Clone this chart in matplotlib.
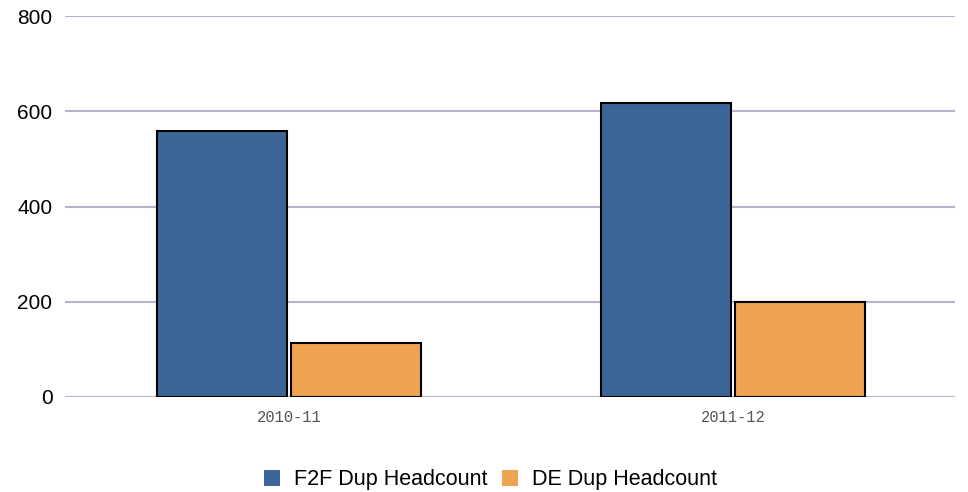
import matplotlib
matplotlib.use("Agg")
import matplotlib.pyplot as plt
import numpy as np

categories = ["2010-11", "2011-12"]
series_names = ["F2F Dup Headcount", "DE Dup Headcount"]
f2f_values = [559, 617]
de_values = [114, 199]
colors = ["#3b6697", "#efa352"]
yticks = [0, 200, 400, 600, 800]

W, H = 968, 492
fig = plt.figure(figsize=(W / 100, H / 100), dpi=100)
ax = fig.add_axes([65 / W, 1 - 397 / H, (955 - 65) / W, (397 - 16) / H])

x = np.arange(len(categories))
bw = 0.293
gap = 0.0035
ax.bar(x - bw / 2 - gap, f2f_values, bw, color=colors[0], edgecolor="black",
       linewidth=1.5, label=series_names[0], zorder=3)
ax.bar(x + bw / 2 + gap, de_values, bw, color=colors[1], edgecolor="black",
       linewidth=1.5, label=series_names[1], zorder=3)

ax.set_xlim(-0.5045, len(categories) - 0.5)
ax.set_ylim(0, 800)
ax.set_yticks(yticks)
ax.set_yticklabels([str(v) for v in yticks], fontsize=15, family="Liberation Sans", color="black")
ax.set_xticks(x)
ax.set_xticklabels(categories, fontsize=11.2, family="Liberation Mono", color="#555555")
ax.tick_params(axis="y", length=0, pad=9)
ax.tick_params(axis="x", length=0, pad=9)
for s in ax.spines.values():
    s.set_visible(False)
ax.yaxis.grid(True, color="#b4b4cc", linewidth=1.5, zorder=0)
ax.set_axisbelow(True)

leg = fig.legend(loc="center", bbox_to_anchor=(490.5 / W, 1 - 480 / H), ncol=2, frameon=False,
                 prop={"family": "Liberation Sans", "size": 15.5}, handlelength=0.75,
                 handleheight=0.75, handletextpad=0.65, columnspacing=0.65)
for h in leg.legend_handles:
    h.set_edgecolor("none")

fig.savefig("out.png", dpi=100)
